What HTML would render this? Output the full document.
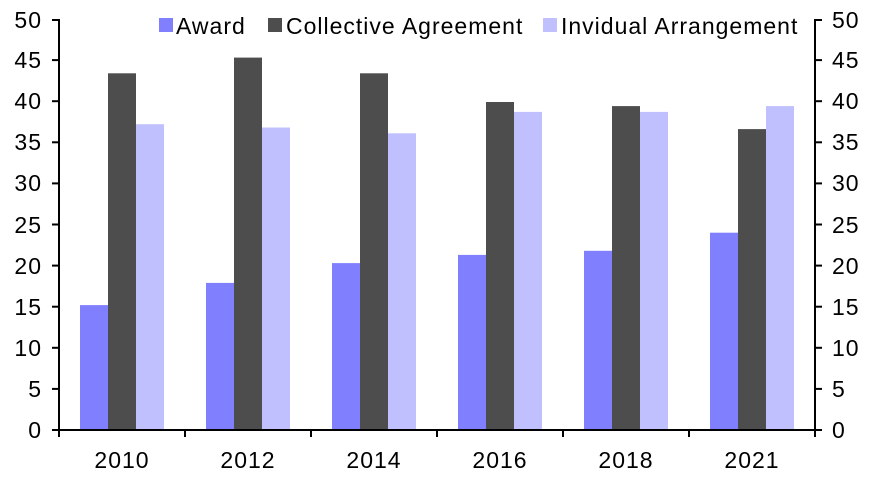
<!DOCTYPE html>
<html><head><style>body{margin:0;background:#fff}svg text{font-family:"Liberation Sans",sans-serif;font-size:23px;letter-spacing:1px;fill:#000}</style></head><body>
<svg width="877" height="490" xmlns="http://www.w3.org/2000/svg">
<g fill="#8080ff">
<rect x="80" y="305.1" width="28" height="124.9"/><rect x="206" y="282.9" width="28" height="147.1"/><rect x="332" y="263.1" width="28" height="166.9"/><rect x="458" y="254.9" width="28" height="175.1"/><rect x="584" y="250.8" width="28" height="179.2"/><rect x="710" y="232.7" width="28" height="197.3"/>
</g>
<g fill="#4d4d4d">
<rect x="108" y="73.3" width="28" height="356.7"/><rect x="234" y="57.6" width="28" height="372.4"/><rect x="360" y="73.3" width="28" height="356.7"/><rect x="486" y="102" width="28" height="328"/><rect x="612" y="106.1" width="28" height="323.9"/><rect x="738" y="129.1" width="28" height="300.9"/>
</g>
<g fill="#c0c0ff">
<rect x="136" y="124.2" width="28" height="305.8"/><rect x="262" y="127.5" width="28" height="302.5"/><rect x="388" y="133.3" width="28" height="296.7"/><rect x="514" y="111.9" width="28" height="318.1"/><rect x="640" y="111.9" width="28" height="318.1"/><rect x="766" y="106.1" width="28" height="323.9"/>
</g>
<g stroke="#000" stroke-width="2">
<line x1="59" y1="19" x2="59" y2="431"/><line x1="815" y1="19" x2="815" y2="431"/><line x1="52" y1="430" x2="822" y2="430"/>
<line x1="59" y1="430" x2="59" y2="437"/><line x1="185" y1="430" x2="185" y2="437"/><line x1="311" y1="430" x2="311" y2="437"/><line x1="437" y1="430" x2="437" y2="437"/><line x1="563" y1="430" x2="563" y2="437"/><line x1="689" y1="430" x2="689" y2="437"/><line x1="815" y1="430" x2="815" y2="437"/>
<line x1="52" y1="388.9" x2="59" y2="388.9"/><line x1="52" y1="347.8" x2="59" y2="347.8"/><line x1="52" y1="306.7" x2="59" y2="306.7"/><line x1="52" y1="265.6" x2="59" y2="265.6"/><line x1="52" y1="224.5" x2="59" y2="224.5"/><line x1="52" y1="183.4" x2="59" y2="183.4"/><line x1="52" y1="142.3" x2="59" y2="142.3"/><line x1="52" y1="101.2" x2="59" y2="101.2"/><line x1="52" y1="60.1" x2="59" y2="60.1"/><line x1="52" y1="20" x2="59" y2="20"/>
<line x1="815" y1="388.9" x2="822" y2="388.9"/><line x1="815" y1="347.8" x2="822" y2="347.8"/><line x1="815" y1="306.7" x2="822" y2="306.7"/><line x1="815" y1="265.6" x2="822" y2="265.6"/><line x1="815" y1="224.5" x2="822" y2="224.5"/><line x1="815" y1="183.4" x2="822" y2="183.4"/><line x1="815" y1="142.3" x2="822" y2="142.3"/><line x1="815" y1="101.2" x2="822" y2="101.2"/><line x1="815" y1="60.1" x2="822" y2="60.1"/><line x1="815" y1="20" x2="822" y2="20"/>
</g>
<g text-anchor="end">
<text x="42" y="438">0</text><text x="42" y="397">5</text><text x="42" y="356">10</text><text x="42" y="315">15</text><text x="42" y="274">20</text><text x="42" y="233">25</text><text x="42" y="191">30</text><text x="42" y="150">35</text><text x="42" y="109">40</text><text x="42" y="68">45</text><text x="42" y="28">50</text>
</g>
<g>
<text x="832" y="438">0</text><text x="832" y="397">5</text><text x="832" y="356">10</text><text x="832" y="315">15</text><text x="832" y="274">20</text><text x="832" y="233">25</text><text x="832" y="191">30</text><text x="832" y="150">35</text><text x="832" y="109">40</text><text x="832" y="68">45</text><text x="832" y="28">50</text>
</g>
<g text-anchor="middle">
<text x="122" y="468">2010</text><text x="248" y="468">2012</text><text x="374" y="468">2014</text><text x="500" y="468">2016</text><text x="626" y="468">2018</text><text x="752" y="468">2021</text>
</g>
<rect x="159" y="18" width="14" height="14" fill="#8080ff"/><text x="176" y="34">Award</text>
<rect x="268" y="18" width="14" height="14" fill="#4d4d4d"/><text x="286" y="34">Collective Agreement</text>
<rect x="543" y="18" width="14" height="14" fill="#c0c0ff"/><text x="561" y="34">Invidual Arrangement</text>
</svg></body></html>
